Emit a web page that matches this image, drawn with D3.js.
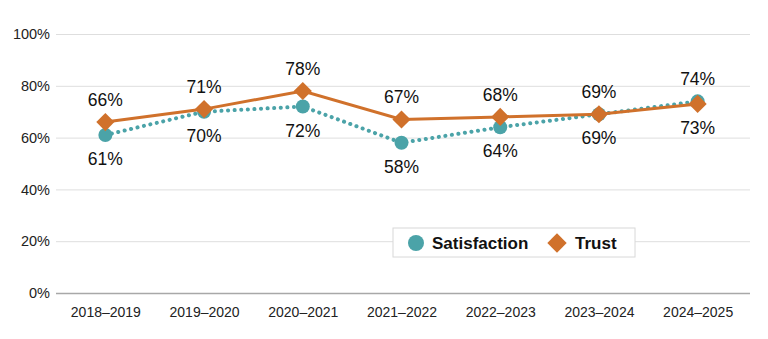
<!doctype html>
<html lang="en-US">
<head>
<meta charset="UTF-8">
<title>Satisfaction and Trust</title>
<script src="https://cdn.jsdelivr.net/npm/d3@7"></script>
<style>
  body { margin: 0; background: #fff; }
  text { font-family: "Liberation Sans", Arial, sans-serif; }
</style>
</head>
<body>
<div id="viz"></div>
<script>
var years = ["2018–2019", "2019–2020", "2020–2021", "2021–2022", "2022–2023", "2023–2024", "2024–2025"];
var satisfaction = [61, 70, 72, 58, 64, 69, 74];
var trust = [66, 71, 78, 67, 68, 69, 73];
var yTicks = [0, 20, 40, 60, 80, 100];

var W = 768, H = 339;
var teal = "#4ba3a8", orange = "#d0712b";

var svg = d3.select("#viz").append("svg").attr("width", W).attr("height", H);

var x = d3.scalePoint().domain(years).range([56, 747]).padding(0.5);
var y = d3.scaleLinear().domain([0, 100]).range([293, 34]);

// gridlines + y labels
var yAxis = svg.append("g").attr("transform", "translate(56,0)")
  .call(d3.axisLeft(y).tickValues(yTicks).tickSize(-694).tickFormat(function(d) { return d + "%"; }));
yAxis.select(".domain").remove();
yAxis.selectAll(".tick line").attr("stroke", "#dedede").attr("stroke-width", 1);
yAxis.selectAll(".tick text").attr("x", -6).attr("font-size", 14.5).attr("fill", "#222");
yAxis.selectAll(".tick").filter(function(d) { return d === 0; }).select("line")
  .attr("stroke", "#a8a8a8").attr("stroke-width", 1.5);

// x labels
var xAxis = svg.append("g").attr("transform", "translate(0,293)")
  .call(d3.axisBottom(x).tickSize(0).tickPadding(14));
xAxis.select(".domain").remove();
xAxis.selectAll(".tick text").attr("font-size", 14).attr("fill", "#222");

var line = d3.line().x(function(d, i) { return x(years[i]); }).y(function(d) { return y(d); });

// satisfaction: dotted line with circles
svg.append("path").datum(satisfaction).attr("d", line)
  .attr("fill", "none").attr("stroke", teal).attr("stroke-width", 4)
  .attr("stroke-linecap", "round").attr("stroke-dasharray", "0.1 6.5");
svg.selectAll("circle.sat").data(satisfaction).enter().append("circle")
  .attr("class", "sat")
  .attr("cx", function(d, i) { return x(years[i]); })
  .attr("cy", function(d) { return y(d); })
  .attr("r", 7).attr("fill", teal);

// trust: solid line with diamonds
svg.append("path").datum(trust).attr("d", line)
  .attr("fill", "none").attr("stroke", orange).attr("stroke-width", 3);
var diamond = d3.symbol().type(d3.symbolDiamond2).size(210);
svg.selectAll("path.trust").data(trust).enter().append("path")
  .attr("class", "trust")
  .attr("d", diamond)
  .attr("transform", function(d, i) { return "translate(" + x(years[i]) + "," + y(d) + ")"; })
  .attr("fill", orange);

// value labels: higher series above, the other below
function labels(vals, other, above) {
  svg.selectAll(null).data(vals).enter().append("text")
    .attr("x", function(d, i) { return x(years[i]); })
    .attr("y", function(d, i) {
      var up = above ? d >= other[i] : d > other[i];
      return up ? y(d) - 16 : y(d) + 30;
    })
    .attr("text-anchor", "middle").attr("font-size", 17.5).attr("fill", "#111")
    .text(function(d) { return d + "%"; });
}
labels(trust, satisfaction, true);
labels(satisfaction, trust, false);

// legend
var lg = svg.append("g").attr("transform", "translate(393,228)");
lg.append("rect").attr("width", 242).attr("height", 29)
  .attr("fill", "#fff").attr("stroke", "#d8d8d8");
lg.append("circle").attr("cx", 23).attr("cy", 15).attr("r", 8).attr("fill", teal);
lg.append("text").attr("x", 39).attr("y", 21).attr("font-size", 17).attr("font-weight", "bold")
  .attr("fill", "#111").text("Satisfaction");
lg.append("path").attr("d", d3.symbol().type(d3.symbolDiamond2).size(240))
  .attr("transform", "translate(164,15)").attr("fill", orange);
lg.append("text").attr("x", 182).attr("y", 21).attr("font-size", 17).attr("font-weight", "bold")
  .attr("fill", "#111").text("Trust");
</script>
</body>
</html>
